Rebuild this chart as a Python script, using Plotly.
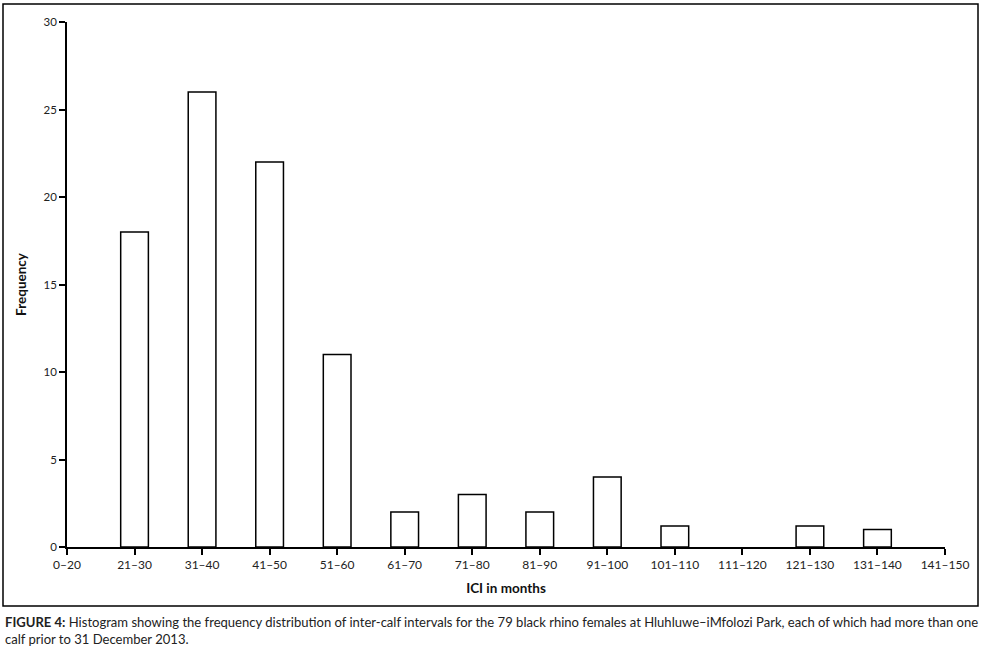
import plotly.graph_objects as go

categories = ["0–20", "21–30", "31–40", "41–50", "51–60", "61–70", "71–80",
              "81–90", "91–100", "101–110", "111–120", "121–130", "131–140", "141–150"]
frequency = [0, 18, 26, 22, 11, 2, 3, 2, 4, 1.2, 0, 1.2, 1, 0]

y_ticks = [0, 5, 10, 15, 20, 25, 30]

W, H = 983, 657
L, R, T, B = 67, 945, 22, 547  # plot area in pixels

def px(x):
    return (x - L) / (R - L)

def py(y):
    return (B - y) / (B - T)

FONT = "Lato, 'Open Sans', sans-serif"

# empty classes get no outline (no visible mark in the reference)
outline_widths = [1.5 if v > 0 else 0 for v in frequency]

fig = go.Figure()
fig.add_trace(go.Bar(
    x=categories, y=frequency,
    marker=dict(color="white", line=dict(color="black", width=outline_widths)),
    width=0.41,
    showlegend=False,
))

fig.update_layout(
    width=W, height=H,
    margin=dict(l=L, r=W - R, t=T, b=H - B),
    paper_bgcolor="white", plot_bgcolor="white",
    font=dict(family=FONT, size=11, color="#222"),
    xaxis=dict(
        type="category", range=[0, len(categories) - 1],
        showline=True, linecolor="black", linewidth=1.5,
        ticks="outside", ticklen=6, tickwidth=1.5, tickcolor="black",
        showgrid=False, zeroline=False, layer="above traces",
        tickfont=dict(size=12, family=FONT, color="#222"),
        title=dict(text="<b>ICI in months</b>", font=dict(size=13.5, family=FONT, color="#111"), standoff=12),
    ),
    yaxis=dict(
        range=[0, 30], tickvals=y_ticks,
        showline=True, linecolor="black", linewidth=1.5,
        ticks="outside", ticklen=6, tickwidth=1.5, tickcolor="black",
        showgrid=False, zeroline=False, layer="above traces",
        tickfont=dict(size=11.5, family=FONT, color="#222"),
        title=dict(text="<b>Frequency</b>", font=dict(size=13.5, family=FONT, color="#111"), standoff=14),
    ),
    shapes=[dict(
        type="rect", xref="paper", yref="paper",
        x0=px(3), x1=px(978), y0=py(606), y1=py(4),
        line=dict(color="black", width=1.5), fillcolor="rgba(0,0,0,0)",
    )],
    annotations=[dict(
        xref="paper", yref="paper", x=px(3), y=py(612),
        xanchor="left", yanchor="top", align="left", showarrow=False,
        text=("<b>FIGURE 4:</b> Histogram showing the frequency distribution of inter-calf intervals for the 79 black rhino females at Hluhluwe–iMfolozi Park, each of which had more than one<br>"
              "calf prior to 31 December 2013."),
        font=dict(size=13.05, family=FONT, color="#222"),
    )],
)

fig.write_html(
    "out.html",
    config={"displayModeBar": False},
    post_script="document.body.style.margin='0';document.body.style.overflow='hidden';",
)
